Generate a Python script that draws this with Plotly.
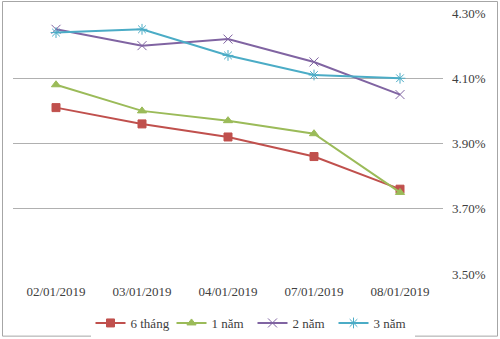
import plotly.graph_objects as go

dates = ["02/01/2019", "03/01/2019", "04/01/2019", "07/01/2019", "08/01/2019"]
s6m = [4.01, 3.96, 3.92, 3.86, 3.76]
s1y = [4.08, 4.00, 3.97, 3.93, 3.75]
s2y = [4.25, 4.20, 4.22, 4.15, 4.05]
s3y = [4.24, 4.25, 4.17, 4.11, 4.10]
names = ["6 tháng", "1 năm", "2 năm", "3 năm"]
yticks = [3.50, 3.70, 3.90, 4.10, 4.30]

colors = ["#C0504D", "#9BBB59", "#8064A2", "#4BACC6"]
symbols = ["square", "triangle-up", "x-thin", "asterisk"]

fig = go.Figure()
for name, vals, c, sym in zip(names, [s6m, s1y, s2y, s3y], colors, symbols):
    fig.add_trace(go.Scatter(
        x=list(range(len(dates))), y=vals, name=name, mode="lines+markers",
        line=dict(color=c, width=2),
        marker=dict(symbol=sym, size=8 if sym in ("square", "triangle-up") else 9,
                    color=c, line=dict(color=c, width=1)),
    ))

L, R, T, B = 13, 57, 13, 64.7
W, H = 500, 339
pw, ph = W - L - R, H - T - B
fig.add_shape(type="rect", xref="paper", yref="paper",
              x0=(2.5 - L) / pw, x1=(497.5 - L) / pw,
              y0=-(336.5 - T - ph) / ph, y1=1 + (T - 1.5) / ph,
              line=dict(color="#A6A6A6", width=1), layer="below")

FONT = '"Liberation Serif"'
fig.update_layout(
    width=W, height=H, margin=dict(l=L, r=R, t=T, b=B, autoexpand=False),
    paper_bgcolor="white", plot_bgcolor="white",
    font=dict(family=FONT, size=13, color="#404040"),
    xaxis=dict(tickvals=list(range(len(dates))), ticktext=dates, range=[-0.5, 4.5],
               showgrid=False, zeroline=False, showline=False, ticks="",
               ticklabelstandoff=8, automargin=False,
               tickfont=dict(family=FONT, size=13, color="#404040")),
    yaxis=dict(side="right", range=[3.5, 4.3], tickvals=yticks,
               ticktext=[f"{v:.2f}%" for v in yticks],
               showgrid=True, gridcolor="#B0B0B0", gridwidth=1,
               zeroline=False, showline=False, ticks="", ticklabelstandoff=8,
               automargin=False,
               tickfont=dict(family=FONT, size=13, color="#404040")),
    legend=dict(orientation="h", x=0.505, xanchor="center", xref="container",
                y=1 - 323 / 339, yanchor="middle", yref="container",
                font=dict(family=FONT, size=13, color="#404040"),
                itemwidth=30, tracegroupgap=0, entrywidth=36),
    showlegend=True,
)
fig.write_html("out.html")
